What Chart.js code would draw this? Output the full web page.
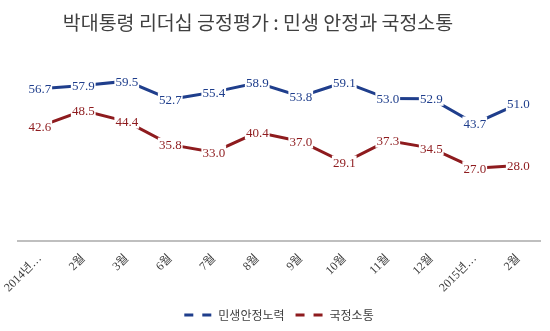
<!DOCTYPE html>
<html>
<head>
<meta charset="utf-8">
<script src="https://cdn.jsdelivr.net/npm/chart.js@4/dist/chart.umd.min.js"></script>
<style>
    html, body { margin: 0; padding: 0; background: #fff; }
    #wrap { width: 550px; height: 331px; position: relative; }
</style>
</head>
<body>
<div id="wrap"><canvas id="chart"></canvas></div>
<script>
// Chart data
const months = ['2014년…', '2월', '3월', '6월', '7월', '8월', '9월', '10월', '11월', '12월', '2015년…', '2월'];
const livelihood = [56.7, 57.9, 59.5, 52.7, 55.4, 58.9, 53.8, 59.1, 53.0, 52.9, 43.7, 51.0];
const communication = [42.6, 48.5, 44.4, 35.8, 33.0, 40.4, 37.0, 29.1, 37.3, 34.5, 27.0, 28.0];
const chartTitle = '박대통령 리더십 긍정평가 : 민생 안정과 국정소통';

const BLUE = '#1f3e8c';
const RED = '#8e1b1e';

// Title sits a bit left of centre in the original, so draw it ourselves
const offsetTitle = {
    id: 'offsetTitle',
    afterDraw(chart) {
        const ctx = chart.ctx;
        ctx.save();
        ctx.font = '19.5px "Noto Sans CJK KR", sans-serif';
        ctx.fillStyle = '#404040';
        ctx.textAlign = 'center';
        ctx.textBaseline = 'middle';
        ctx.fillText(chartTitle, 258, 23);
        ctx.restore();
    }
};

// Draws value labels on a white box centred on each point
const valueLabels = {
    id: 'valueLabels',
    afterDatasetsDraw(chart) {
        const ctx = chart.ctx;
        ctx.save();
        ctx.font = '13px "Liberation Serif", "Times New Roman", serif';
        ctx.textAlign = 'center';
        ctx.textBaseline = 'middle';
        chart.data.datasets.forEach((ds, i) => {
            const meta = chart.getDatasetMeta(i);
            meta.data.forEach((pt, j) => {
                const text = ds.data[j].toFixed(1);
                const w = ctx.measureText(text).width + 2;
                ctx.fillStyle = '#fff';
                ctx.fillRect(pt.x - w / 2, pt.y - 7, w, 14);
                ctx.fillStyle = ds.borderColor;
                ctx.fillText(text, pt.x, pt.y + 1);
            });
        });
        ctx.restore();
    }
};

new Chart(document.getElementById('chart'), {
    type: 'line',
    data: {
        labels: months,
        datasets: [
            {
                label: '민생안정노력',
                data: livelihood,
                borderColor: BLUE,
                backgroundColor: BLUE,
                borderWidth: 3,
                pointRadius: 0,
                tension: 0
            },
            {
                label: '국정소통',
                data: communication,
                borderColor: RED,
                backgroundColor: RED,
                borderWidth: 3,
                pointRadius: 0,
                tension: 0
            }
        ]
    },
    options: {
        responsive: true,
        maintainAspectRatio: false,
        animation: false,
        layout: {
            padding: { left: 18, right: 10, top: 53, bottom: 0 }
        },
        plugins: {
            title: { display: false },
            legend: {
                position: 'bottom',
                labels: {
                    color: '#404040',
                    font: { family: '"Noto Sans CJK KR", sans-serif', size: 12 },
                    usePointStyle: true,
                    pointStyle: 'line',
                    pointStyleWidth: 28,
                    padding: 11,
                    generateLabels(chart) {
                        return chart.data.datasets.map((ds, i) => ({
                            text: ds.label,
                            strokeStyle: ds.borderColor,
                            fillStyle: ds.borderColor,
                            fontColor: '#404040',
                            lineWidth: 3,
                            lineDash: [9, 9],
                            pointStyle: 'line',
                            datasetIndex: i
                        }));
                    }
                }
            },
            tooltip: { enabled: false }
        },
        scales: {
            x: {
                offset: true,
                grid: { display: false },
                border: { color: '#bfbfbf', width: 2 },
                ticks: {
                    color: '#404040',
                    minRotation: 45,
                    maxRotation: 45,
                    autoSkip: false,
                    font: { family: '"Liberation Serif", "Noto Sans CJK KR", serif', size: 12 }
                }
            },
            y: {
                display: false,
                min: 0,
                max: 70
            }
        }
    },
    plugins: [valueLabels, offsetTitle]
});
</script>
</body>
</html>
